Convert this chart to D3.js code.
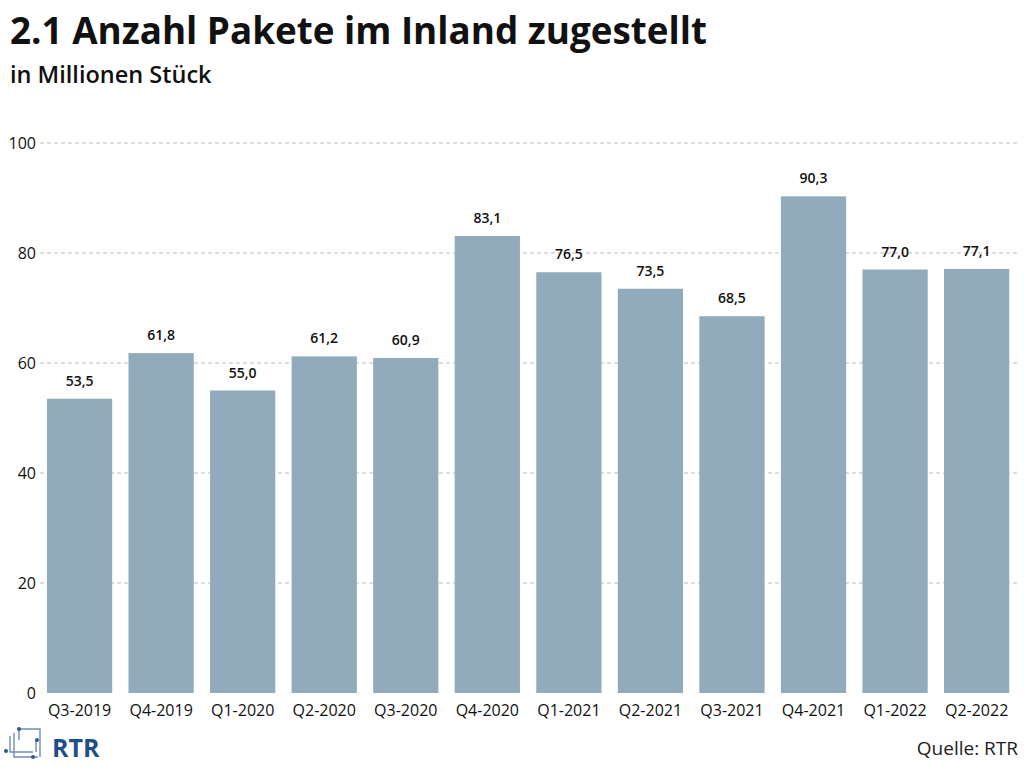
<!DOCTYPE html><html><head><meta charset="utf-8"><script src="https://d3js.org/d3.v7.min.js"></script>
<style>body{margin:0;background:#fff;font-family:"Open Sans",sans-serif}</style></head><body>
<svg id="c" width="1024" height="768"></svg>
<script>
const categories=["Q3-2019","Q4-2019","Q1-2020","Q2-2020","Q3-2020","Q4-2020","Q1-2021","Q2-2021","Q3-2021","Q4-2021","Q1-2022","Q2-2022"];
const values=[53.5,61.8,55.0,61.2,60.9,83.1,76.5,73.5,68.5,90.3,77.0,77.1];
const yTicks=[0,20,40,60,80,100];
const svg=d3.select("#c");
const x=d3.scaleBand().domain(categories).range([38.8,1017.4]).paddingInner(0.2).paddingOuter(0.1);
const y=d3.scaleLinear().domain([0,100]).range([693,143]);
svg.append("text").attr("x",10).attr("y",44).attr("font-size",36.8).attr("font-weight",700).attr("fill","#111").text("2.1 Anzahl Pakete im Inland zugestellt");
svg.append("text").attr("x",10).attr("y",83).attr("font-size",23.5).attr("font-weight",600).attr("fill","#111").text("in Millionen Stück");
const g=svg.append("g");
yTicks.forEach(t=>{
 if(t>0) g.append("line").attr("x1",40).attr("x2",1020).attr("y1",y(t)).attr("y2",y(t)).attr("stroke","#bbb").attr("stroke-dasharray","4,3");
 g.append("text").attr("x",36).attr("y",y(t)+6).attr("text-anchor","end").attr("font-size",16).attr("fill","#111").text(t);
});
g.selectAll("rect").data(values).join("rect").attr("x",(d,i)=>x(categories[i])).attr("width",x.bandwidth()).attr("y",d=>y(d)).attr("height",d=>y(0)-y(d)).attr("fill","#91abbc");
g.selectAll(".v").data(values).join("text").attr("x",(d,i)=>x(categories[i])+x.bandwidth()/2).attr("y",d=>y(d)-13).attr("text-anchor","middle").attr("font-size",14).attr("font-weight",600).attr("fill","#111").text(d=>d.toFixed(1).replace(".",","));
g.selectAll(".c").data(categories).join("text").attr("x",d=>x(d)+x.bandwidth()/2).attr("y",716).attr("text-anchor","middle").attr("font-size",16).attr("fill","#111").text(d=>d);
svg.append("text").attr("x",1018).attr("y",755).attr("text-anchor","end").attr("font-size",19).attr("fill","#222").text("Quelle: RTR");
// logo
const L=svg.append("g").attr("stroke","#6d8fb5").attr("stroke-width",1.4).attr("fill","none");
L.append("path").attr("d","M19,729 L40,729 L40,757 M10,736 L10,752 L33,752");
L.append("path").attr("d","M14,733 L14,757 L38,757 M19,729 L19,740 M36,740 L36,752");
const dots=[[19,729],[37,740],[33,757],[6,751]];
svg.selectAll(".d").data(dots).join("circle").attr("cx",d=>d[0]).attr("cy",d=>d[1]).attr("r",2).attr("fill","#2a5a90");
svg.append("text").attr("x",52).attr("y",757).attr("font-size",25).attr("font-weight",700).attr("fill","#1f4f88").text("RTR");
</script></body></html>
